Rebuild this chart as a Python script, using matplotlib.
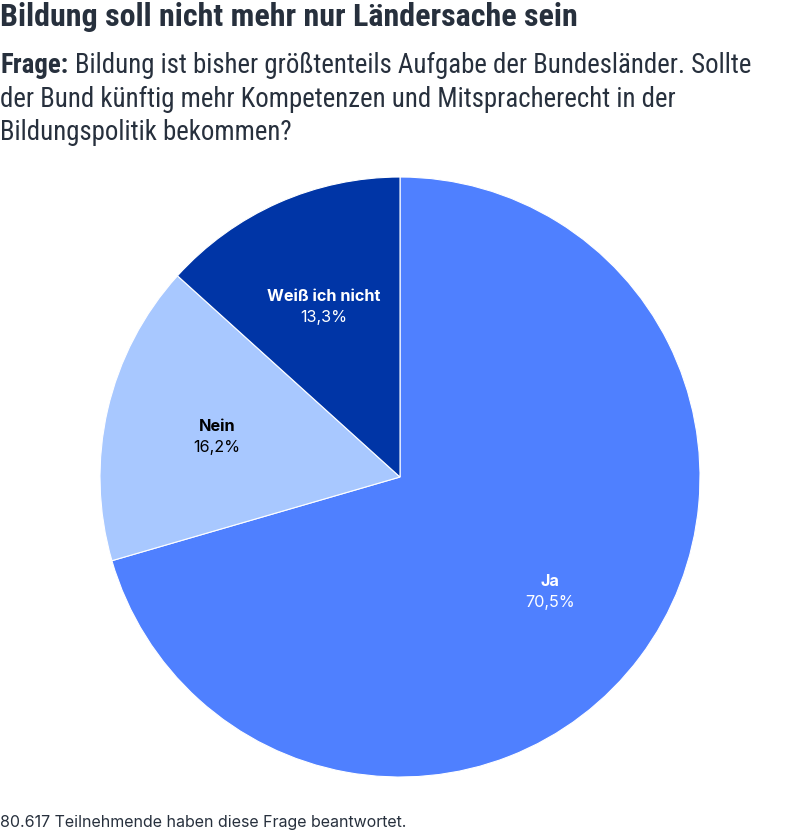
import numpy as np
import matplotlib.pyplot as plt

labels = ["Ja", "Nein", "Weiß ich nicht"]
values = [70.5, 16.2, 13.3]
colors = ["#4f80ff", "#a8c8ff", "#0035a6"]
text_colors = ["white", "black", "white"]

cond = "Roboto Condensed"
dark = "#27303d"

fig = plt.figure(figsize=(8, 8.33), dpi=100)
ax = fig.add_axes([0.125, 0.0672, 0.75, 0.7203])

wedges, _ = ax.pie(values, colors=colors, startangle=90, counterclock=False,
                   wedgeprops=dict(linewidth=0.8, edgecolor="white"))
ax.set_xlim(-1, 1)
ax.set_ylim(-1, 1)
ax.set_aspect("equal")

# labels at ~0.63 radius in wedge middle
start = 90.0
total = sum(values)
for lab, v, tc in zip(labels, values, text_colors):
    span = 360.0 * v / total
    mid = np.deg2rad(start - span / 2)
    start -= span
    x, y = 0.627 * np.cos(mid), 0.627 * np.sin(mid)
    ax.text(x, y + 0.028, lab, ha="center", va="center", fontsize=11.7,
            fontweight="bold", color=tc, family="Inter")
    ax.text(x, y - 0.042, f"{v:.1f}%".replace(".", ","), ha="center", va="center",
            fontsize=11.7, color=tc, family="Inter")

fig.text(0.0, 0.979, "Bildung soll nicht mehr nur Ländersache sein", fontsize=23,
         fontweight="bold", color=dark, family=cond, va="center")
fr = fig.text(0.0, 0.921, "Frage:", fontsize=19.4, fontweight="bold", color=dark,
              family=cond, va="center")
r = fig.canvas.get_renderer()
w = fr.get_window_extent(r).width / fig.bbox.width
fig.text(w + 0.008, 0.921, "Bildung ist bisher größtenteils Aufgabe der Bundesländer. Sollte",
         fontsize=19.4, color=dark, family=cond, va="center")
fig.text(0.0, 0.881, "der Bund künftig mehr Kompetenzen und Mitspracherecht in der",
         fontsize=19.4, color=dark, family=cond, va="center")
fig.text(0.0, 0.841, "Bildungspolitik bekommen?", fontsize=19.4, color=dark,
         family=cond, va="center")
fig.text(0.0, 0.013, "80.617 Teilnehmende haben diese Frage beantwortet.", fontsize=11.5,
         color=dark, family="Inter", va="center")

fig.savefig("out.png", dpi=100)
